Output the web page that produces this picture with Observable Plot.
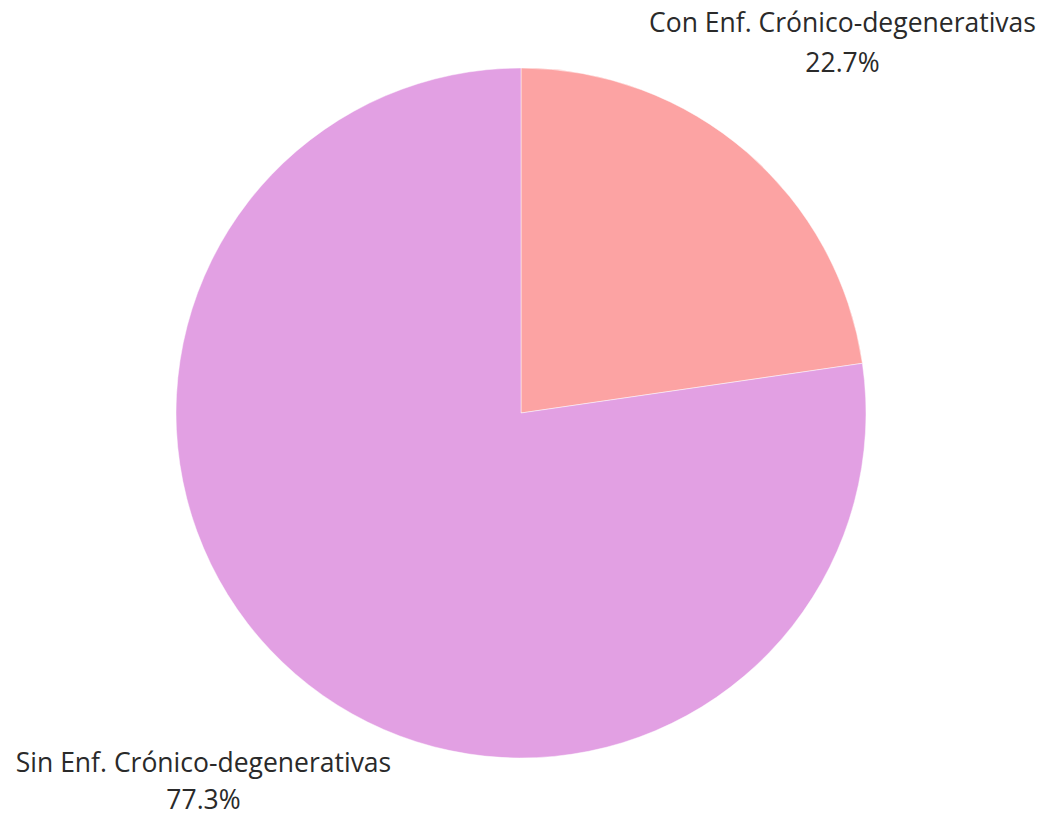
<!DOCTYPE html>
<html>
<head>
<meta charset="utf-8">
<script src="https://cdn.jsdelivr.net/npm/d3@7"></script>
<script src="https://cdn.jsdelivr.net/npm/@observablehq/plot@0.6"></script>
<style>
  html, body { margin: 0; padding: 0; background: #fff; }
  svg { display: block; }
</style>
</head>
<body>
<div id="chart"></div>
<script>
const categories = ["Con Enf. Crónico-degenerativas", "Sin Enf. Crónico-degenerativas"];
const values = [22.7, 77.3];
const colors = ["#FCA3A3", "#E2A0E3"];

const W = 1048, H = 817;
const cx = 521, cy = 413, R = 345;

const data = categories.map((c, i) => ({category: c, value: values[i], color: colors[i]}));
const pie = d3.pie().value(d => d.value).sort(null)(data);

// label positions (layout)
const labelPos = [
  {x: (842 - cx) / R, y: (cy - 23) / R, y2: (cy - 63) / R},
  {x: (203 - cx) / R, y: (cy - 763) / R, y2: (cy - 800) / R}
];
const labels = data.flatMap((d, i) => [
  {x: labelPos[i].x, y: labelPos[i].y, text: d.category},
  {x: labelPos[i].x, y: labelPos[i].y2, text: d.value.toFixed(1) + "%"}
]);

const pieMark = (index, scales, values, dims, context) => {
  const g = d3.create("svg:g");
  const x0 = scales.x(0), y0 = scales.y(0);
  const r = scales.x(1) - scales.x(0);
  const arc = d3.arc().innerRadius(0).outerRadius(r);
  g.attr("transform", `translate(${x0},${y0})`);
  g.selectAll("path").data(pie).join("path")
    .attr("d", arc)
    .attr("fill", d => d.data.color)
    .attr("stroke", "#fff")
    .attr("stroke-opacity", 0.6)
    .attr("stroke-width", 0.8);
  return g.node();
};

const chart = Plot.plot({
  width: W,
  height: H,
  margin: 0,
  x: {domain: [-cx / R, (W - cx) / R], range: [0, W], axis: null},
  y: {domain: [-(H - cy) / R, cy / R], range: [H, 0], axis: null},
  style: {fontFamily: "'Open Sans', sans-serif", background: "#fff"},
  marks: [
    pieMark,
    Plot.text(labels, {x: "x", y: "y", text: "text", fontSize: 26.5, fontWeight: 400, fill: "#2a2a2a", textAnchor: "middle"})
  ]
});
document.getElementById("chart").appendChild(chart);
</script>
</body>
</html>
